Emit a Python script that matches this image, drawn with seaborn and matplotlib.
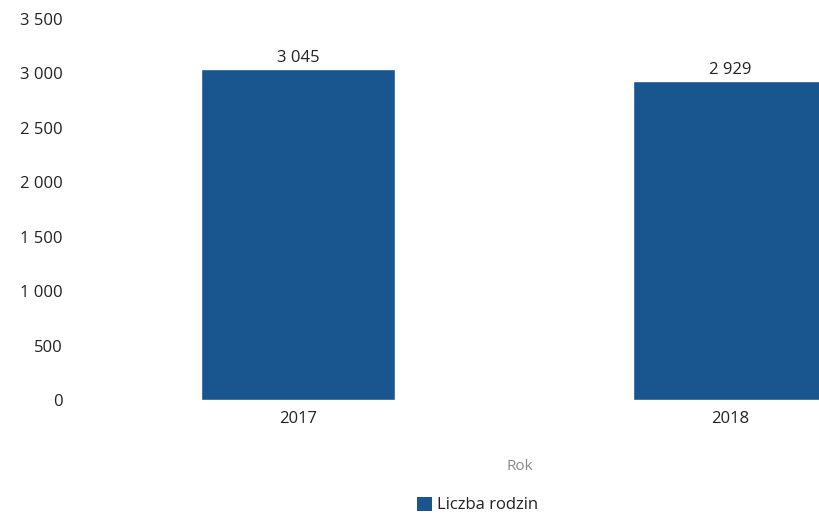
import seaborn as sns
from matplotlib import pyplot as plt
from matplotlib.patches import Patch
import pandas as pd

# dane
lata = ["2017", "2018"]
liczba_rodzin = [3045, 2929]
y_ticks = [0, 500, 1000, 1500, 2000, 2500, 3000, 3500]

df = pd.DataFrame({"Rok": lata, "Liczba rodzin": liczba_rodzin})

sns.set_style("white")
plt.rcParams["font.family"] = ["Open Sans", "DejaVu Sans"]


def fmt(v):
    return f"{v:,}".replace(",", " ")


fig = plt.figure(figsize=(8.19, 5.2), dpi=100)
# osie wychodzą poza prawą krawędź (obraz przycięty)
ax = fig.add_axes([82 / 819, 120 / 520, 864 / 819, 381 / 520])

kolor = "#19558f"
sns.barplot(data=df, x="Rok", y="Liczba rodzin", color=kolor, width=0.45,
            saturation=1, ax=ax)

for i, v in enumerate(liczba_rodzin):
    ax.text(i, v + 25, fmt(v), ha="center", va="bottom", fontsize=12, color="#222222")

ax.set_xlim(-0.5, 1.5)
ax.set_ylim(0, 3500)
ax.set_yticks(y_ticks)
ax.set_yticklabels([fmt(t) for t in y_ticks], fontsize=12, color="#222222")
ax.tick_params(axis="x", labelsize=12, colors="#222222", length=0, pad=8)
ax.tick_params(axis="y", length=0, pad=14)
ax.set_ylabel("")
ax.set_xlabel("Rok", fontsize=11, color="#888888")
ax.xaxis.set_label_coords((520 - 82) / 864, -0.155)
sns.despine(ax=ax, left=True, bottom=True)

uchwyt = Patch(facecolor=kolor, edgecolor="none")
fig.legend(handles=[uchwyt], labels=["Liczba rodzin"], loc="center",
           bbox_to_anchor=(478 / 819, 15 / 520), frameon=False, fontsize=12,
           handlelength=0.9, handleheight=0.9, handletextpad=0.3,
           labelcolor="#222222")

fig.savefig("out.png", dpi=100)
